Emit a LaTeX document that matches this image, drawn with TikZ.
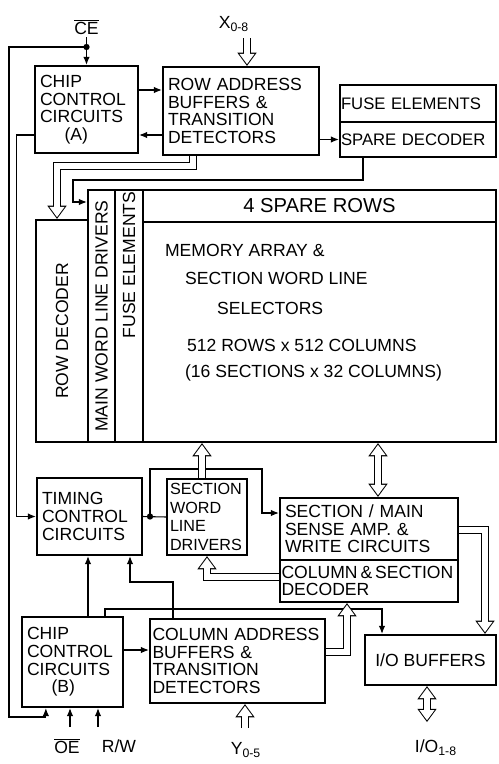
\documentclass[tikz,border=0pt]{standalone}
\usepackage{fontspec}
\setmainfont{Liberation Sans}
\usetikzlibrary{arrows.meta}
\newcommand\lowidx[1]{$_{\mbox{\scriptsize #1}}$}
\newcommand\boxfont{\fontsize{10}{10}\selectfont}

\begin{document}
\begin{tikzpicture}[x=0.02cm, y=-0.02cm,
  blk/.style={draw, line width=1.3pt, inner sep=0.1cm, align=left, font=\boxfont},
  sig/.style={line width=0.6pt},
  arr/.style={sig, -{Latex[length=4.5pt,width=3.6pt]}},
  bigtip/.style={-{Triangle[length=7.5pt,width=11pt,line width=0pt]}},
  smalltip/.style={-{Triangle[length=5.8pt,width=8.6pt,line width=0pt]}},
  bus/.style={line width=5pt, bigtip,
    postaction={draw=white, line width=3.8pt, shorten >=1pt, smalltip}},
  dbus/.style={line width=5pt,
    {Triangle[length=7.5pt,width=11pt,line width=0pt]}-{Triangle[length=7.5pt,width=11pt,line width=0pt]},
    postaction={draw=white, line width=3.8pt, shorten >=1pt, shorten <=1pt,
      {Triangle[length=5.8pt,width=8.6pt,line width=0pt]}-{Triangle[length=5.8pt,width=8.6pt,line width=0pt]}}},
  lbl/.style={font=\boxfont, inner sep=1pt}]
\useasboundingbox (0,0) rectangle (499,764);

% upper half
\node[lbl] (ce) at (86.5,27) {$\overline{\mbox{CE}}$};
\node[lbl] (xlab) at (234,24) {X\lowidx{0-8}};
\coordinate (xbus) at (247,38);
\node[blk, text width=1.86cm, minimum height=1.74cm] (chipA) at (86.5,109.5) {CHIP\\CONTROL\\CIRCUITS\\\hspace*{1.4em}(A)};
\node[blk, text width=2.92cm, minimum height=1.76cm] (rowaddr) at (241,111) {ROW ADDRESS\\BUFFERS \&\\TRANSITION\\DETECTORS};
\node[blk, inner sep=0.02cm, text width=3.08cm, minimum height=0.74cm, font=\fontsize{9.5}{10}\selectfont] (fuse) at (418,103.5) {FUSE ELEMENTS};
\node[blk, inner sep=0.02cm, text width=3.08cm, minimum height=0.70cm, font=\fontsize{9.5}{10}\selectfont] (spare) at (418,139.5) {SPARE DECODER};

\node[blk, minimum width=1.04cm, minimum height=4.44cm] (rowdec) at (62,331) {};
\node[blk, minimum width=0.54cm, minimum height=5.04cm] (mwld) at (101.5,316) {};
\node[blk, minimum width=0.56cm, minimum height=5.04cm] (fusecol) at (129,316) {};
\node[blk, align=center, minimum width=7.06cm, minimum height=0.64cm, font=\fontsize{11.5}{12}\selectfont] (sparerows) at (319.5,206) {4 SPARE ROWS};
\node[blk, minimum width=7.06cm, minimum height=4.4cm] (array) at (319.5,332) {};
\node[lbl, rotate=90] (rowdectxt) at (rowdec) {ROW DECODER};
\node[lbl, rotate=90] (mwldtxt) at (mwld) {MAIN WORD LINE DRIVERS};
\node[lbl, rotate=90] (fusetxt) at (129,265) {FUSE ELEMENTS};
\node[lbl, anchor=west] (arr1) at (163,250) {MEMORY ARRAY \&};
\node[lbl, anchor=west] (arr2) at (183,278) {SECTION WORD LINE};
\node[lbl, anchor=west] (arr3) at (215,308) {SELECTORS};
\node[lbl, anchor=west] (arr4) at (185,345) {512 ROWS x 512 COLUMNS};
\node[lbl, anchor=west] (arr5) at (183,373) {(16 SECTIONS x 32 COLUMNS)};

% lower half
\node[blk, text width=1.9cm, minimum height=1.54cm] (timing) at (89.5,516.5) {TIMING\\CONTROL\\CIRCUITS};
\node[blk, inner sep=0.06cm, text width=1.48cm, minimum height=1.52cm, font=\fontsize{9.2}{10.5}\selectfont] (swld) at (207,517) {SECTION\\WORD\\LINE\\DRIVERS};
\node[blk, text width=3.36cm, minimum height=1.24cm] (sense) at (369,529) {SECTION / MAIN\\SENSE AMP. \&\\WRITE CIRCUITS};
\node[blk, inner sep=0.03cm, text width=3.5cm, minimum height=0.84cm] (decoder) at (369,581) {COLUMN\,\&\,SECTION\\DECODER};
\node[blk, text width=1.82cm, minimum height=1.8cm] (chipB) at (72.5,662) {CHIP\\CONTROL\\CIRCUITS\\\hspace*{1.4em}(B)};
\node[blk, inner sep=0.05cm, text width=3.4cm, minimum height=1.68cm] (coladdr) at (237.5,661) {COLUMN ADDRESS\\BUFFERS \&\\TRANSITION\\DETECTORS};
\node[blk, align=center, minimum width=2.62cm, minimum height=1.0cm] (iobuf) at (430.5,660) {I/O BUFFERS};

\node[lbl] (oe) at (67,746) {$\overline{\mbox{OE}}$};
\node[lbl] (rw) at (119,746) {R/W};
\node[lbl] (ylab) at (246,750) {Y\lowidx{0-5}};
\node[lbl] (iolab) at (436,748) {I/O\lowidx{1-8}};
\coordinate (oein) at (70,727);
\coordinate (rwin) at (98,727);
\coordinate (yin) at (245,728);
\coordinate (iopin) at (427,722);

% connections
\coordinate (cejn) at (86.5,47);
\draw[arr] (ce) -- (chipA.north);
\fill (cejn) circle (1.8pt);
\draw[arr] (cejn) -| (9,717) -| ([xshift=0.5cm]chipB.south west);
\draw[arr] (chipA.east |- 0,90) -- (rowaddr.west |- 0,90);
\draw[arr] (rowaddr.west |- 0,135) -- (chipA.east |- 0,135);
\draw[arr] (chipA.west |- 0,135) -| ([xshift=-0.38cm]timing.west) -- (timing.west);
\draw[arr] (rowaddr.east |- spare.west) -- (spare.west);
\draw[arr] (spare.south -| 363,0) |- (73,180) |- (mwld.west |- 0,202);
\coordinate (tdot) at (150,516.5);
\draw[sig] (timing.east) -- (swld.west);
\fill (tdot) circle (1.8pt);
\draw[arr] (tdot) |- (262,469) |- (sense.west |- 0,513);
\draw[arr] (chipB.east |- 0,650) -- (coladdr.west |- 0,650);
\draw[arr] (chipB.north -| 88,0) -- (timing.south -| 88,0);
\draw[arr] (coladdr.north -| 173,0) |- (130,582) -- (timing.south -| 130,0);
\draw[arr] (chipB.north -| 105,0) -- (105,609) -| (iobuf.north -| 382,0);
\draw[arr] (oein) -- (chipB.south -| oein);
\draw[arr] (rwin) -- (chipB.south -| rwin);

% buses
\draw[bus] (xbus) -- (rowaddr.north -| xbus);
\draw[bus] (rowaddr.south -| 193,0) |- (57,166) -- (rowdec.north -| 57,0);
\draw[bus] (swld.north -| 202,0) -- (array.south -| 202,0);
\draw[dbus] (array.south -| 378,0) -- (sense.north -| 378,0);
\draw[bus] (decoder.west |- 0,577) -| (swld.south -| 207,0);
\draw[bus] (sense.east |- 0,530) -| (iobuf.north -| 485,0);
\draw[dbus] (iobuf.south -| iopin) -- (iopin);
\draw[bus] (coladdr.east |- 0,652) -| (decoder.south -| 347,0);
\draw[bus] (yin) -- (coladdr.south -| yin);
\end{tikzpicture}
\end{document}
